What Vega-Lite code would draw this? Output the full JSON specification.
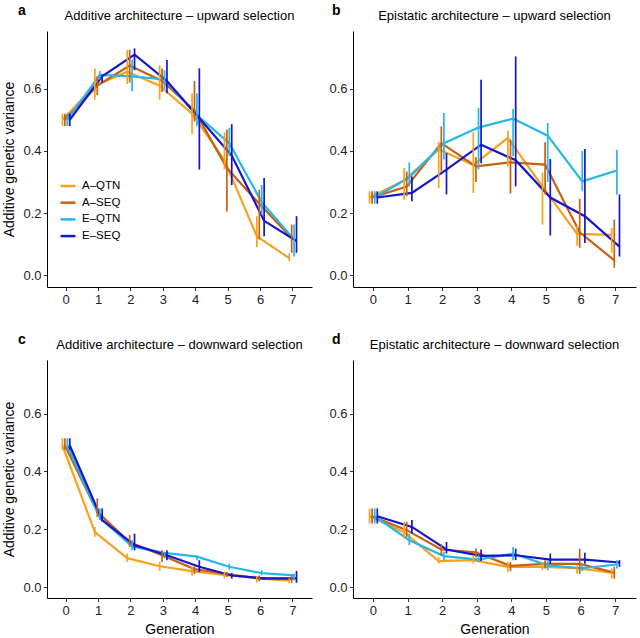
{
  "$schema": "https://vega.github.io/schema/vega-lite/v6.json",
  "padding": {"left": 2, "top": 4, "right": 2, "bottom": 0},
  "background": "white",
  "config": {
    "font": "Liberation Sans",
    "view": {"stroke": null},
    "axis": {"domainColor": "#000", "domainWidth": 1, "tickColor": "#333", "tickSize": 3.5, "tickWidth": 1, "labelFontSize": 13, "labelColor": "#222", "titleFontSize": 14, "titleFontWeight": "normal", "titleColor": "#000", "grid": false, "labelPadding": 2.5},
    "axisX": {"labelAngle": 0, "titlePadding": 5},
    "axisY": {"titlePadding": 6},
    "title": {"fontSize": 13, "fontWeight": "normal", "color": "#000"},
    "legend": {"labelFontSize": 11.5, "labelColor": "#000"}
  },
  "data": {"values": [
    {"panel":"a","series":"A–QTN","gen":0,"v":0.50,"lo":0.48,"hi":0.52},
    {"panel":"a","series":"A–QTN","gen":1,"v":0.61,"lo":0.565,"hi":0.665},
    {"panel":"a","series":"A–QTN","gen":2,"v":0.655,"lo":0.615,"hi":0.725},
    {"panel":"a","series":"A–QTN","gen":3,"v":0.61,"lo":0.565,"hi":0.675},
    {"panel":"a","series":"A–QTN","gen":4,"v":0.52,"lo":0.455,"hi":0.585},
    {"panel":"a","series":"A–QTN","gen":5,"v":0.37,"lo":0.34,"hi":0.46},
    {"panel":"a","series":"A–QTN","gen":6,"v":0.125,"lo":0.09,"hi":0.19},
    {"panel":"a","series":"A–QTN","gen":7,"v":0.055,"lo":0.045,"hi":0.07},
    {"panel":"a","series":"A–SEQ","gen":0,"v":0.50,"lo":0.48,"hi":0.52},
    {"panel":"a","series":"A–SEQ","gen":1,"v":0.61,"lo":0.58,"hi":0.64},
    {"panel":"a","series":"A–SEQ","gen":2,"v":0.675,"lo":0.62,"hi":0.725},
    {"panel":"a","series":"A–SEQ","gen":3,"v":0.625,"lo":0.59,"hi":0.665},
    {"panel":"a","series":"A–SEQ","gen":4,"v":0.53,"lo":0.495,"hi":0.625},
    {"panel":"a","series":"A–SEQ","gen":5,"v":0.345,"lo":0.205,"hi":0.468},
    {"panel":"a","series":"A–SEQ","gen":6,"v":0.23,"lo":0.115,"hi":0.275},
    {"panel":"a","series":"A–SEQ","gen":7,"v":0.12,"lo":0.072,"hi":0.163},
    {"panel":"a","series":"E–QTN","gen":0,"v":0.50,"lo":0.48,"hi":0.52},
    {"panel":"a","series":"E–QTN","gen":1,"v":0.645,"lo":0.63,"hi":0.657},
    {"panel":"a","series":"E–QTN","gen":2,"v":0.64,"lo":0.592,"hi":0.694},
    {"panel":"a","series":"E–QTN","gen":3,"v":0.63,"lo":0.60,"hi":0.66},
    {"panel":"a","series":"E–QTN","gen":4,"v":0.515,"lo":0.48,"hi":0.586},
    {"panel":"a","series":"E–QTN","gen":5,"v":0.425,"lo":0.383,"hi":0.474},
    {"panel":"a","series":"E–QTN","gen":6,"v":0.235,"lo":0.195,"hi":0.29},
    {"panel":"a","series":"E–QTN","gen":7,"v":0.115,"lo":0.06,"hi":0.163},
    {"panel":"a","series":"E–SEQ","gen":0,"v":0.50,"lo":0.48,"hi":0.52},
    {"panel":"a","series":"E–SEQ","gen":1,"v":0.64,"lo":0.62,"hi":0.646},
    {"panel":"a","series":"E–SEQ","gen":2,"v":0.71,"lo":0.66,"hi":0.73},
    {"panel":"a","series":"E–SEQ","gen":3,"v":0.625,"lo":0.586,"hi":0.693},
    {"panel":"a","series":"E–SEQ","gen":4,"v":0.505,"lo":0.34,"hi":0.666},
    {"panel":"a","series":"E–SEQ","gen":5,"v":0.385,"lo":0.29,"hi":0.486},
    {"panel":"a","series":"E–SEQ","gen":6,"v":0.175,"lo":0.125,"hi":0.313},
    {"panel":"a","series":"E–SEQ","gen":7,"v":0.11,"lo":0.072,"hi":0.19},

    {"panel":"b","series":"A–QTN","gen":0,"v":0.25,"lo":0.23,"hi":0.27},
    {"panel":"b","series":"A–QTN","gen":1,"v":0.305,"lo":0.243,"hi":0.345},
    {"panel":"b","series":"A–QTN","gen":2,"v":0.405,"lo":0.28,"hi":0.43},
    {"panel":"b","series":"A–QTN","gen":3,"v":0.355,"lo":0.265,"hi":0.46},
    {"panel":"b","series":"A–QTN","gen":4,"v":0.442,"lo":0.35,"hi":0.466},
    {"panel":"b","series":"A–QTN","gen":5,"v":0.285,"lo":0.163,"hi":0.33},
    {"panel":"b","series":"A–QTN","gen":6,"v":0.133,"lo":0.095,"hi":0.16},
    {"panel":"b","series":"A–QTN","gen":7,"v":0.13,"lo":0.072,"hi":0.152},
    {"panel":"b","series":"A–SEQ","gen":0,"v":0.25,"lo":0.23,"hi":0.27},
    {"panel":"b","series":"A–SEQ","gen":1,"v":0.285,"lo":0.254,"hi":0.334},
    {"panel":"b","series":"A–SEQ","gen":2,"v":0.425,"lo":0.334,"hi":0.479},
    {"panel":"b","series":"A–SEQ","gen":3,"v":0.35,"lo":0.30,"hi":0.38},
    {"panel":"b","series":"A–SEQ","gen":4,"v":0.363,"lo":0.263,"hi":0.436},
    {"panel":"b","series":"A–SEQ","gen":5,"v":0.356,"lo":0.26,"hi":0.428},
    {"panel":"b","series":"A–SEQ","gen":6,"v":0.138,"lo":0.088,"hi":0.246},
    {"panel":"b","series":"A–SEQ","gen":7,"v":0.048,"lo":0.024,"hi":0.179},
    {"panel":"b","series":"E–QTN","gen":0,"v":0.25,"lo":0.23,"hi":0.27},
    {"panel":"b","series":"E–QTN","gen":1,"v":0.315,"lo":0.286,"hi":0.363},
    {"panel":"b","series":"E–QTN","gen":2,"v":0.425,"lo":0.372,"hi":0.522},
    {"panel":"b","series":"E–QTN","gen":3,"v":0.475,"lo":0.34,"hi":0.538},
    {"panel":"b","series":"E–QTN","gen":4,"v":0.504,"lo":0.383,"hi":0.535},
    {"panel":"b","series":"E–QTN","gen":5,"v":0.449,"lo":0.30,"hi":0.49},
    {"panel":"b","series":"E–QTN","gen":6,"v":0.302,"lo":0.27,"hi":0.40},
    {"panel":"b","series":"E–QTN","gen":7,"v":0.337,"lo":0.259,"hi":0.404},
    {"panel":"b","series":"E–SEQ","gen":0,"v":0.25,"lo":0.23,"hi":0.27},
    {"panel":"b","series":"E–SEQ","gen":1,"v":0.265,"lo":0.238,"hi":0.318},
    {"panel":"b","series":"E–SEQ","gen":2,"v":0.34,"lo":0.26,"hi":0.393},
    {"panel":"b","series":"E–SEQ","gen":3,"v":0.42,"lo":0.36,"hi":0.629},
    {"panel":"b","series":"E–SEQ","gen":4,"v":0.37,"lo":0.286,"hi":0.704},
    {"panel":"b","series":"E–SEQ","gen":5,"v":0.25,"lo":0.128,"hi":0.374},
    {"panel":"b","series":"E–SEQ","gen":6,"v":0.19,"lo":0.104,"hi":0.406},
    {"panel":"b","series":"E–SEQ","gen":7,"v":0.092,"lo":0.06,"hi":0.26},

    {"panel":"c","series":"A–QTN","gen":0,"v":0.49,"lo":0.475,"hi":0.515},
    {"panel":"c","series":"A–QTN","gen":1,"v":0.19,"lo":0.174,"hi":0.208},
    {"panel":"c","series":"A–QTN","gen":2,"v":0.10,"lo":0.087,"hi":0.116},
    {"panel":"c","series":"A–QTN","gen":3,"v":0.072,"lo":0.056,"hi":0.087},
    {"panel":"c","series":"A–QTN","gen":4,"v":0.055,"lo":0.04,"hi":0.07},
    {"panel":"c","series":"A–QTN","gen":5,"v":0.042,"lo":0.03,"hi":0.052},
    {"panel":"c","series":"A–QTN","gen":6,"v":0.03,"lo":0.016,"hi":0.037},
    {"panel":"c","series":"A–QTN","gen":7,"v":0.022,"lo":0.013,"hi":0.03},
    {"panel":"c","series":"A–SEQ","gen":0,"v":0.49,"lo":0.475,"hi":0.515},
    {"panel":"c","series":"A–SEQ","gen":1,"v":0.26,"lo":0.243,"hi":0.307},
    {"panel":"c","series":"A–SEQ","gen":2,"v":0.155,"lo":0.139,"hi":0.18},
    {"panel":"c","series":"A–SEQ","gen":3,"v":0.11,"lo":0.087,"hi":0.127},
    {"panel":"c","series":"A–SEQ","gen":4,"v":0.062,"lo":0.045,"hi":0.072},
    {"panel":"c","series":"A–SEQ","gen":5,"v":0.045,"lo":0.035,"hi":0.052},
    {"panel":"c","series":"A–SEQ","gen":6,"v":0.03,"lo":0.02,"hi":0.04},
    {"panel":"c","series":"A–SEQ","gen":7,"v":0.028,"lo":0.015,"hi":0.04},
    {"panel":"c","series":"E–QTN","gen":0,"v":0.49,"lo":0.475,"hi":0.515},
    {"panel":"c","series":"E–QTN","gen":1,"v":0.24,"lo":0.232,"hi":0.272},
    {"panel":"c","series":"E–QTN","gen":2,"v":0.14,"lo":0.127,"hi":0.162},
    {"panel":"c","series":"E–QTN","gen":3,"v":0.118,"lo":0.10,"hi":0.12},
    {"panel":"c","series":"E–QTN","gen":4,"v":0.105,"lo":0.093,"hi":0.11},
    {"panel":"c","series":"E–QTN","gen":5,"v":0.07,"lo":0.06,"hi":0.081},
    {"panel":"c","series":"E–QTN","gen":6,"v":0.048,"lo":0.04,"hi":0.058},
    {"panel":"c","series":"E–QTN","gen":7,"v":0.04,"lo":0.023,"hi":0.046},
    {"panel":"c","series":"E–SEQ","gen":0,"v":0.49,"lo":0.475,"hi":0.515},
    {"panel":"c","series":"E–SEQ","gen":1,"v":0.232,"lo":0.226,"hi":0.272},
    {"panel":"c","series":"E–SEQ","gen":2,"v":0.145,"lo":0.127,"hi":0.185},
    {"panel":"c","series":"E–SEQ","gen":3,"v":0.11,"lo":0.093,"hi":0.127},
    {"panel":"c","series":"E–SEQ","gen":4,"v":0.07,"lo":0.052,"hi":0.093},
    {"panel":"c","series":"E–SEQ","gen":5,"v":0.04,"lo":0.029,"hi":0.049},
    {"panel":"c","series":"E–SEQ","gen":6,"v":0.03,"lo":0.025,"hi":0.035},
    {"panel":"c","series":"E–SEQ","gen":7,"v":0.03,"lo":0.015,"hi":0.056},

    {"panel":"d","series":"A–QTN","gen":0,"v":0.245,"lo":0.22,"hi":0.272},
    {"panel":"d","series":"A–QTN","gen":1,"v":0.19,"lo":0.168,"hi":0.226},
    {"panel":"d","series":"A–QTN","gen":2,"v":0.09,"lo":0.081,"hi":0.104},
    {"panel":"d","series":"A–QTN","gen":3,"v":0.093,"lo":0.081,"hi":0.11},
    {"panel":"d","series":"A–QTN","gen":4,"v":0.07,"lo":0.052,"hi":0.087},
    {"panel":"d","series":"A–QTN","gen":5,"v":0.07,"lo":0.058,"hi":0.087},
    {"panel":"d","series":"A–QTN","gen":6,"v":0.065,"lo":0.046,"hi":0.075},
    {"panel":"d","series":"A–QTN","gen":7,"v":0.05,"lo":0.029,"hi":0.064},
    {"panel":"d","series":"A–SEQ","gen":0,"v":0.245,"lo":0.22,"hi":0.272},
    {"panel":"d","series":"A–SEQ","gen":1,"v":0.197,"lo":0.174,"hi":0.226},
    {"panel":"d","series":"A–SEQ","gen":2,"v":0.13,"lo":0.11,"hi":0.148},
    {"panel":"d","series":"A–SEQ","gen":3,"v":0.12,"lo":0.102,"hi":0.133},
    {"panel":"d","series":"A–SEQ","gen":4,"v":0.073,"lo":0.055,"hi":0.087},
    {"panel":"d","series":"A–SEQ","gen":5,"v":0.08,"lo":0.064,"hi":0.093},
    {"panel":"d","series":"A–SEQ","gen":6,"v":0.08,"lo":0.046,"hi":0.133},
    {"panel":"d","series":"A–SEQ","gen":7,"v":0.05,"lo":0.029,"hi":0.07},
    {"panel":"d","series":"E–QTN","gen":0,"v":0.245,"lo":0.22,"hi":0.272},
    {"panel":"d","series":"E–QTN","gen":1,"v":0.162,"lo":0.145,"hi":0.185},
    {"panel":"d","series":"E–QTN","gen":2,"v":0.107,"lo":0.093,"hi":0.122},
    {"panel":"d","series":"E–QTN","gen":3,"v":0.095,"lo":0.087,"hi":0.11},
    {"panel":"d","series":"E–QTN","gen":4,"v":0.116,"lo":0.093,"hi":0.139},
    {"panel":"d","series":"E–QTN","gen":5,"v":0.075,"lo":0.058,"hi":0.093},
    {"panel":"d","series":"E–QTN","gen":6,"v":0.065,"lo":0.055,"hi":0.08},
    {"panel":"d","series":"E–QTN","gen":7,"v":0.078,"lo":0.064,"hi":0.093},
    {"panel":"d","series":"E–SEQ","gen":0,"v":0.245,"lo":0.22,"hi":0.272},
    {"panel":"d","series":"E–SEQ","gen":1,"v":0.208,"lo":0.185,"hi":0.232},
    {"panel":"d","series":"E–SEQ","gen":2,"v":0.13,"lo":0.116,"hi":0.156},
    {"panel":"d","series":"E–SEQ","gen":3,"v":0.108,"lo":0.09,"hi":0.13},
    {"panel":"d","series":"E–SEQ","gen":4,"v":0.11,"lo":0.093,"hi":0.133},
    {"panel":"d","series":"E–SEQ","gen":5,"v":0.095,"lo":0.081,"hi":0.116},
    {"panel":"d","series":"E–SEQ","gen":6,"v":0.095,"lo":0.081,"hi":0.119},
    {"panel":"d","series":"E–SEQ","gen":7,"v":0.085,"lo":0.07,"hi":0.093}
  ]},
  "resolve": {"scale": {"color": "independent", "x": "independent", "y": "independent", "xOffset": "independent"}, "legend": {"color": "independent"}, "axis": {"x": "independent", "y": "independent"}},
  "spacing": 27,
  "vconcat": [
    {
      "spacing": 16,
      "resolve": {"scale": {"color": "independent", "x": "independent", "y": "independent", "xOffset": "independent"}, "legend": {"color": "independent"}, "axis": {"x": "independent", "y": "independent"}},
      "hconcat": [
        {
          "title": {"text": "a", "anchor": "start", "frame": "bounds", "fontSize": 14, "fontWeight": "bold", "dx": 15, "offset": -8},
          "resolve": {"scale": {"color": "independent", "x": "independent", "y": "independent", "xOffset": "independent"}, "legend": {"color": "independent"}, "axis": {"x": "independent", "y": "independent"}},
          "vconcat": [{
            "width": 265, "height": 256,
            "title": {"text": "Additive architecture – upward selection", "frame": "group", "offset": 8},
            "transform": [{"filter": "datum.panel == 'a'"}],
            "encoding": {
              "x": {"field": "gen", "type": "ordinal", "scale": {"type": "band", "paddingInner": 0.7, "paddingOuter": 0.44}, "axis": {"title": null}},
              "xOffset": {"field": "series", "type": "nominal", "scale": {"domain": ["A–QTN", "A–SEQ", "E–QTN", "E–SEQ"]}},
              "color": {"field": "series", "type": "nominal", "scale": {"domain": ["A–QTN", "A–SEQ", "E–QTN", "E–SEQ"], "range": ["#F6A21E", "#C8600F", "#25B7E8", "#1515D0"]},
                "legend": {"orient": "none", "legendX": 12, "legendY": 146, "title": null, "symbolType": "stroke", "symbolStrokeWidth": 2.5, "symbolSize": 225, "rowPadding": 1.7, "labelOffset": 5}}
            },
            "layer": [
              {"mark": {"type": "line", "strokeWidth": 2.2}, "encoding": {"y": {"field": "v", "type": "quantitative", "scale": {"domain": [-0.038, 0.786], "nice": false, "zero": false}, "axis": {"title": "Additive genetic variance", "values": [0, 0.2, 0.4, 0.6], "format": ".1f"}}}},
              {"mark": {"type": "rule", "strokeWidth": 1.7}, "encoding": {"y": {"field": "lo", "type": "quantitative"}, "y2": {"field": "hi"}}}
            ]
          }]
        },
        {
          "title": {"text": "b", "anchor": "start", "frame": "bounds", "fontSize": 14, "fontWeight": "bold", "dx": 3, "offset": -8},
          "resolve": {"scale": {"color": "independent", "x": "independent", "y": "independent", "xOffset": "independent"}, "legend": {"color": "independent"}, "axis": {"x": "independent", "y": "independent"}},
          "vconcat": [{
            "width": 283, "height": 256,
            "title": {"text": "Epistatic architecture – upward selection", "frame": "group", "offset": 8},
            "transform": [{"filter": "datum.panel == 'b'"}],
            "encoding": {
              "x": {"field": "gen", "type": "ordinal", "scale": {"type": "band", "paddingInner": 0.7, "paddingOuter": 0.44}, "axis": {"title": null}},
              "xOffset": {"field": "series", "type": "nominal", "scale": {"domain": ["A–QTN", "A–SEQ", "E–QTN", "E–SEQ"]}},
              "color": {"field": "series", "type": "nominal", "scale": {"domain": ["A–QTN", "A–SEQ", "E–QTN", "E–SEQ"], "range": ["#F6A21E", "#C8600F", "#25B7E8", "#1515D0"]}, "legend": null}
            },
            "layer": [
              {"mark": {"type": "line", "strokeWidth": 2.2}, "encoding": {"y": {"field": "v", "type": "quantitative", "scale": {"domain": [-0.038, 0.786], "nice": false, "zero": false}, "axis": {"title": null, "values": [0, 0.2, 0.4, 0.6], "format": ".1f"}}}},
              {"mark": {"type": "rule", "strokeWidth": 1.7}, "encoding": {"y": {"field": "lo", "type": "quantitative"}, "y2": {"field": "hi"}}}
            ]
          }]
        }
      ]
    },
    {
      "spacing": 16,
      "resolve": {"scale": {"color": "independent", "x": "independent", "y": "independent", "xOffset": "independent"}, "legend": {"color": "independent"}, "axis": {"x": "independent", "y": "independent"}},
      "hconcat": [
        {
          "title": {"text": "c", "anchor": "start", "frame": "bounds", "fontSize": 14, "fontWeight": "bold", "dx": 15, "offset": -8},
          "resolve": {"scale": {"color": "independent", "x": "independent", "y": "independent", "xOffset": "independent"}, "legend": {"color": "independent"}, "axis": {"x": "independent", "y": "independent"}},
          "vconcat": [{
            "width": 265, "height": 238,
            "title": {"text": "Additive architecture – downward selection", "frame": "group", "offset": 8},
            "transform": [{"filter": "datum.panel == 'c'"}],
            "encoding": {
              "x": {"field": "gen", "type": "ordinal", "scale": {"type": "band", "paddingInner": 0.7, "paddingOuter": 0.44}, "axis": {"title": "Generation"}},
              "xOffset": {"field": "series", "type": "nominal", "scale": {"domain": ["A–QTN", "A–SEQ", "E–QTN", "E–SEQ"]}},
              "color": {"field": "series", "type": "nominal", "scale": {"domain": ["A–QTN", "A–SEQ", "E–QTN", "E–SEQ"], "range": ["#F6A21E", "#C8600F", "#25B7E8", "#1515D0"]}, "legend": null}
            },
            "layer": [
              {"mark": {"type": "line", "strokeWidth": 2.2}, "encoding": {"y": {"field": "v", "type": "quantitative", "scale": {"domain": [-0.038, 0.786], "nice": false, "zero": false}, "axis": {"title": "Additive genetic variance", "values": [0, 0.2, 0.4, 0.6], "format": ".1f"}}}},
              {"mark": {"type": "rule", "strokeWidth": 1.7}, "encoding": {"y": {"field": "lo", "type": "quantitative"}, "y2": {"field": "hi"}}}
            ]
          }]
        },
        {
          "title": {"text": "d", "anchor": "start", "frame": "bounds", "fontSize": 14, "fontWeight": "bold", "dx": 3, "offset": -8},
          "resolve": {"scale": {"color": "independent", "x": "independent", "y": "independent", "xOffset": "independent"}, "legend": {"color": "independent"}, "axis": {"x": "independent", "y": "independent"}},
          "vconcat": [{
            "width": 283, "height": 238,
            "title": {"text": "Epistatic architecture – downward selection", "frame": "group", "offset": 8},
            "transform": [{"filter": "datum.panel == 'd'"}],
            "encoding": {
              "x": {"field": "gen", "type": "ordinal", "scale": {"type": "band", "paddingInner": 0.7, "paddingOuter": 0.44}, "axis": {"title": "Generation"}},
              "xOffset": {"field": "series", "type": "nominal", "scale": {"domain": ["A–QTN", "A–SEQ", "E–QTN", "E–SEQ"]}},
              "color": {"field": "series", "type": "nominal", "scale": {"domain": ["A–QTN", "A–SEQ", "E–QTN", "E–SEQ"], "range": ["#F6A21E", "#C8600F", "#25B7E8", "#1515D0"]}, "legend": null}
            },
            "layer": [
              {"mark": {"type": "line", "strokeWidth": 2.2}, "encoding": {"y": {"field": "v", "type": "quantitative", "scale": {"domain": [-0.038, 0.786], "nice": false, "zero": false}, "axis": {"title": null, "values": [0, 0.2, 0.4, 0.6], "format": ".1f"}}}},
              {"mark": {"type": "rule", "strokeWidth": 1.7}, "encoding": {"y": {"field": "lo", "type": "quantitative"}, "y2": {"field": "hi"}}}
            ]
          }]
        }
      ]
    }
  ]
}
